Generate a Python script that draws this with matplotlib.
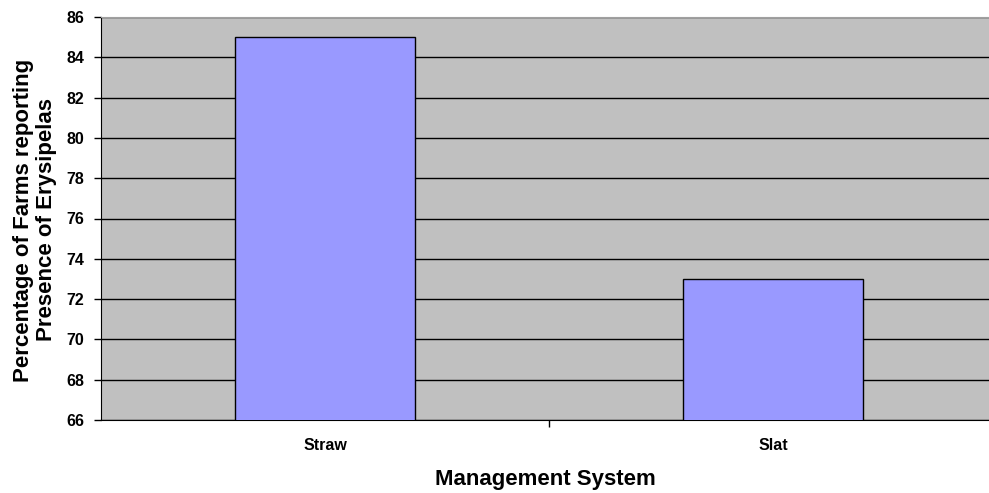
import matplotlib.pyplot as plt
from matplotlib.ticker import FixedLocator, NullFormatter

plt.rcParams['font.family'] = ['Liberation Sans', 'DejaVu Sans']

# chart data
systems = ["Straw", "Slat"]
percent = [85, 73]
y_ticks = [66, 68, 70, 72, 74, 76, 78, 80, 82, 84, 86]


def main():
    fig = plt.figure(figsize=(9.89, 4.93), dpi=100)
    # plot area runs slightly past the right edge of the picture
    ax = fig.add_axes([101 / 989, 73 / 493, 896 / 989, 403 / 493])
    ax.set_facecolor("#C0C0C0")

    x = list(range(len(systems)))
    ax.bar(x, percent, width=0.4, color="#9999FF", edgecolor="black",
           linewidth=1, zorder=3)

    ax.set_xlim(-0.5, len(systems) - 0.5)
    ax.set_ylim(y_ticks[0], y_ticks[-1])
    ax.set_yticks(y_ticks)
    ax.yaxis.grid(True, color="black", linewidth=1, zorder=0)
    ax.set_axisbelow(True)

    # category labels in the middle, tick marks at the boundaries
    ax.set_xticks(x)
    ax.set_xticklabels(systems, fontsize=11.5, fontweight="bold")
    ax.tick_params(axis="x", which="major", length=0, pad=13)
    ax.xaxis.set_minor_locator(FixedLocator([i + 0.5 for i in range(len(systems) - 1)]))
    ax.xaxis.set_minor_formatter(NullFormatter())
    ax.tick_params(axis="x", which="minor", length=5, width=1, direction="out")
    ax.tick_params(axis="y", length=5, width=1, direction="out", labelsize=11.5, pad=7)
    for lab in ax.get_yticklabels():
        lab.set_fontweight("bold")

    ax.spines["top"].set_color("#A0A0A0")
    ax.spines["right"].set_visible(False)
    ax.spines["left"].set_color("black")
    ax.spines["bottom"].set_color("black")

    xl = ax.set_xlabel("Management System", fontsize=16, fontweight="bold")
    xl.set_va("center")
    ax.xaxis.set_label_coords(545 / 989, 1 - 480 / 493, transform=fig.transFigure)

    yl = ax.set_ylabel("Percentage of Farms reporting\nPresence of Erysipelas",
                       fontsize=16, fontweight="bold", linespacing=1.1)
    yl.set_va("center")
    ax.yaxis.set_label_coords(35 / 989, 1 - 220 / 493, transform=fig.transFigure)

    fig.savefig("out.png", dpi=100)


if __name__ == '__main__':
    main()
